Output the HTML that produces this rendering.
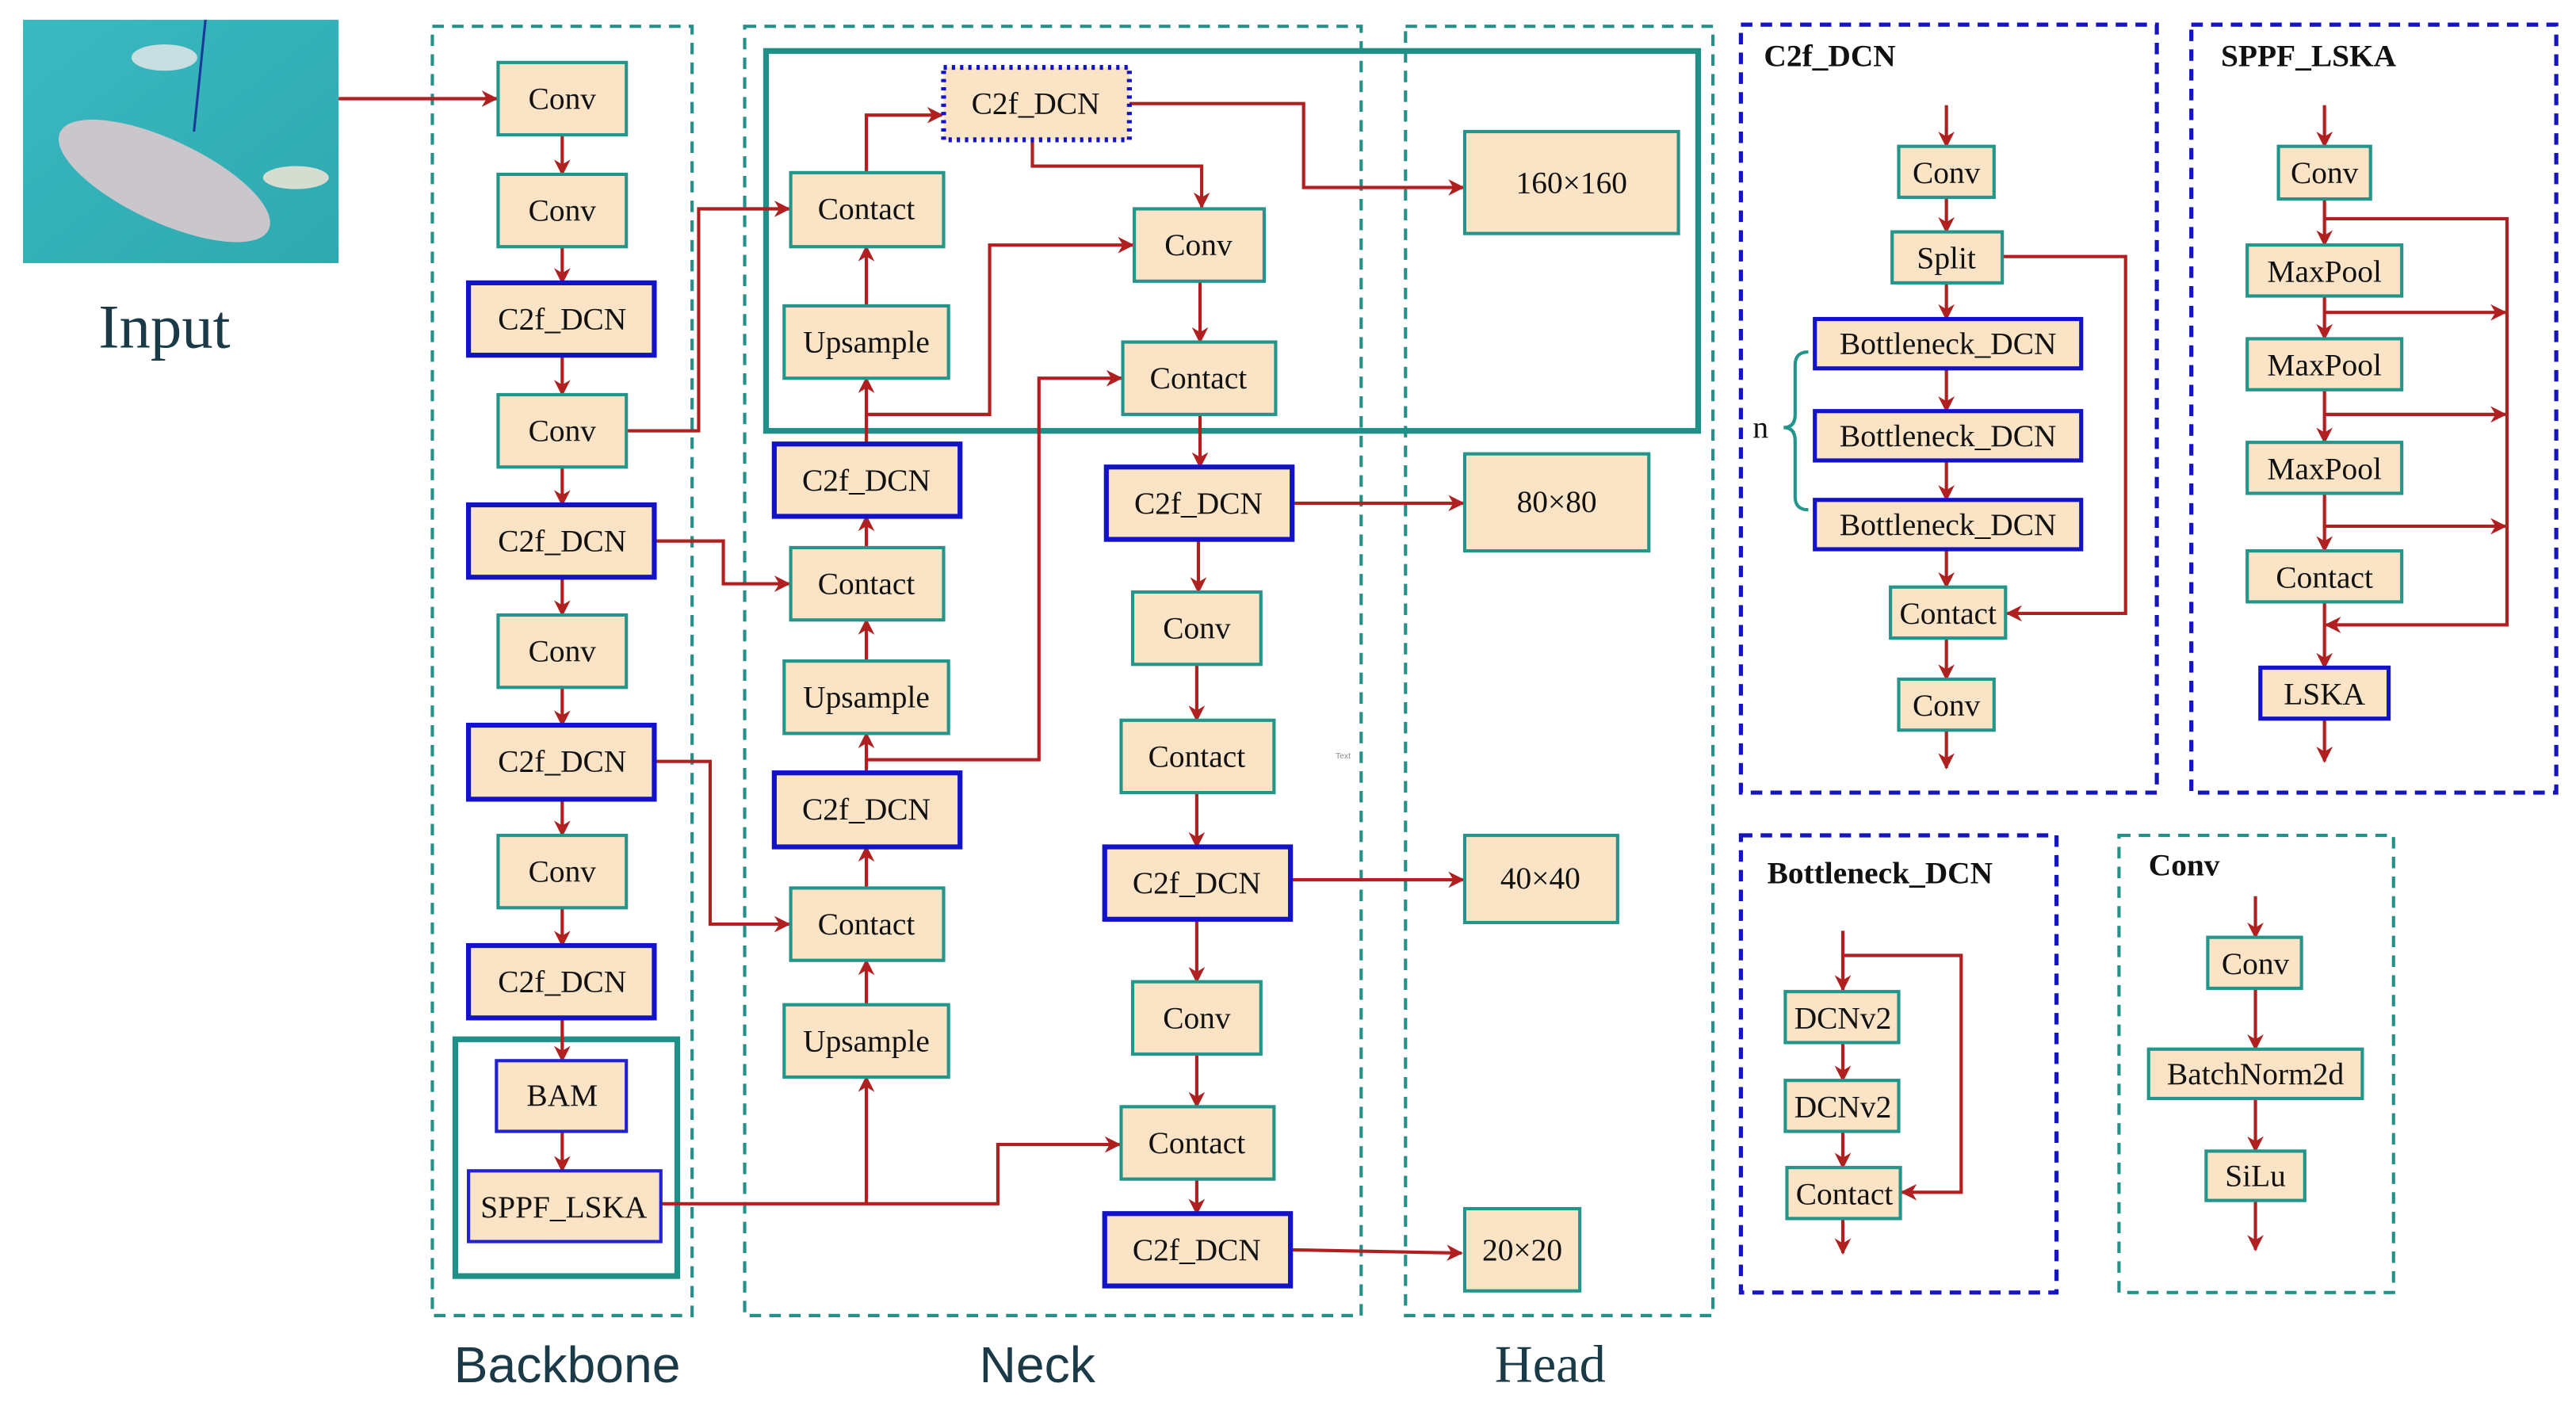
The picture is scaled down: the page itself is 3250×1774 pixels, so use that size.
<!DOCTYPE html>
<html><head><meta charset="utf-8"><style>
html,body{margin:0;padding:0;background:#fff;}
svg{display:block;}
text{font-family:"Liberation Serif","Times New Roman",serif;font-size:19px;fill:#111;text-anchor:middle;dominant-baseline:central;}
.b{fill:#fbe3c5;stroke:#23958b;stroke-width:2;}
.bl{fill:#fbe3c5;stroke:#1212c8;stroke-width:3;}
.w{fill:none;stroke:#b02020;stroke-width:2;}
.dt{fill:none;stroke:#23908a;stroke-width:2;stroke-dasharray:7,5;}
.db{fill:none;stroke:#1515c0;stroke-width:2.5;stroke-dasharray:7,5;}
.t{font-weight:bold;text-anchor:start;font-size:19px;}
</style></head><body>
<svg width="3250" height="1774" viewBox="0 0 1567 855" preserveAspectRatio="none" xmlns="http://www.w3.org/2000/svg">
<defs>
<marker id="a" markerWidth="10" markerHeight="10" refX="9" refY="5" orient="auto" markerUnits="userSpaceOnUse"><path d="M0,0 L10,5 L0,10 L3,5 z" fill="#b02020"/></marker>
<linearGradient id="wg" x1="0" y1="0" x2="1" y2="1"><stop offset="0" stop-color="#3bb8c0"/><stop offset="1" stop-color="#2ea9b0"/></linearGradient>
</defs>
<rect width="1567" height="855" fill="#fff"/>
<!-- input image -->
<rect x="14" y="12" width="192" height="148" fill="url(#wg)"/>
<ellipse cx="100" cy="110" rx="70" ry="25" fill="#c9c6cc" transform="rotate(25 100 110)"/>
<ellipse cx="100" cy="35" rx="20" ry="8" fill="#c8dfe2"/>
<ellipse cx="180" cy="108" rx="20" ry="7" fill="#d5ddd0"/>
<line x1="125" y1="12" x2="118" y2="80" stroke="#1a3a9a" stroke-width="1.5"/>
<text x="100" y="199" style="font-size:38px;fill:#1a3a48">Input</text>
<!-- dashed groups -->
<rect class="dt" x="263" y="16" width="158" height="784"/>
<rect class="dt" x="453" y="16" width="375" height="784"/>
<rect class="dt" x="855" y="16" width="187" height="784"/>
<text x="345" y="830" style="font-family:'Liberation Sans',sans-serif;font-size:31px;fill:#1a3a48">Backbone</text>
<text x="631" y="830" style="font-family:'Liberation Sans',sans-serif;font-size:31px;fill:#1a3a48">Neck</text>
<text x="943" y="830" style="font-size:32px;fill:#1a3a48">Head</text>
<rect x="466" y="31" width="567" height="231" fill="none" stroke="#1f9088" stroke-width="3.5"/>
<rect x="277" y="632" width="135" height="144" fill="none" stroke="#1f9088" stroke-width="3.5"/>
<!-- wires -->
<path class="w" marker-end="url(#a)" d="M206,60 H302"/>
<path class="w" marker-end="url(#a)" d="M342,82 V106"/>
<path class="w" marker-end="url(#a)" d="M342,150 V172"/>
<path class="w" marker-end="url(#a)" d="M342,216 V240"/>
<path class="w" marker-end="url(#a)" d="M342,284 V307"/>
<path class="w" marker-end="url(#a)" d="M342,351 V374"/>
<path class="w" marker-end="url(#a)" d="M342,418 V441"/>
<path class="w" marker-end="url(#a)" d="M342,486 V508"/>
<path class="w" marker-end="url(#a)" d="M342,552 V575"/>
<path class="w" marker-end="url(#a)" d="M342,619 V645"/>
<path class="w" marker-end="url(#a)" d="M342,688 V712"/>
<path class="w" marker-end="url(#a)" d="M381,262 H425 V127 H480"/>
<path class="w" marker-end="url(#a)" d="M398,329 H440 V355 H480"/>
<path class="w" marker-end="url(#a)" d="M398,463 H432 V562 H480"/>
<path class="w" marker-end="url(#a)" d="M402,732 H607 V696 H681"/>
<path class="w" marker-end="url(#a)" d="M527,732 V655"/>
<path class="w" marker-end="url(#a)" d="M527,611 V584"/>
<path class="w" marker-end="url(#a)" d="M527,540 V515"/>
<path class="w" marker-end="url(#a)" d="M527,470 V446"/>
<path class="w" marker-end="url(#a)" d="M527,462 H632 V230 H682"/>
<path class="w" marker-end="url(#a)" d="M527,402 V377"/>
<path class="w" marker-end="url(#a)" d="M527,333 V314"/>
<path class="w" marker-end="url(#a)" d="M527,270 V230"/>
<path class="w" marker-end="url(#a)" d="M527,252 H602 V149 H689"/>
<path class="w" marker-end="url(#a)" d="M527,186 V150"/>
<path class="w" marker-end="url(#a)" d="M527,105 V70 H573"/>
<path class="w" marker-end="url(#a)" d="M687,63 H793 V114 H890"/>
<path class="w" marker-end="url(#a)" d="M628,85 V101 H731 V126"/>
<path class="w" marker-end="url(#a)" d="M730,171 V208"/>
<path class="w" marker-end="url(#a)" d="M730,252 V284"/>
<path class="w" marker-end="url(#a)" d="M786,306 H890"/>
<path class="w" marker-end="url(#a)" d="M729,328 V360"/>
<path class="w" marker-end="url(#a)" d="M728,404 V438"/>
<path class="w" marker-end="url(#a)" d="M728,482 V515"/>
<path class="w" marker-end="url(#a)" d="M785,535 H890"/>
<path class="w" marker-end="url(#a)" d="M728,559 V597"/>
<path class="w" marker-end="url(#a)" d="M728,641 V673"/>
<path class="w" marker-end="url(#a)" d="M728,717 V738"/>
<path class="w" marker-end="url(#a)" d="M785,760 L889,762"/>
<!-- backbone boxes -->
<rect class="b" x="303" y="38" width="78" height="44"/><text x="342" y="60">Conv</text>
<rect class="b" x="303" y="106" width="78" height="44"/><text x="342" y="128">Conv</text>
<rect class="bl" x="285" y="172" width="113" height="44"/><text x="342" y="194">C2f_DCN</text>
<rect class="b" x="303" y="240" width="78" height="44"/><text x="342" y="262">Conv</text>
<rect class="bl" x="285" y="307" width="113" height="44"/><text x="342" y="329">C2f_DCN</text>
<rect class="b" x="303" y="374" width="78" height="44"/><text x="342" y="396">Conv</text>
<rect class="bl" x="285" y="441" width="113" height="45"/><text x="342" y="463">C2f_DCN</text>
<rect class="b" x="303" y="508" width="78" height="44"/><text x="342" y="530">Conv</text>
<rect class="bl" x="285" y="575" width="113" height="44"/><text x="342" y="597">C2f_DCN</text>
<rect class="b" x="302" y="645" width="79" height="43" style="stroke:#2222cc"/><text x="342" y="666">BAM</text>
<rect class="b" x="285" y="712" width="117" height="43" style="stroke:#2222cc"/><text x="343" y="734">SPPF_LSKA</text>
<!-- neck left -->
<rect class="b" x="481" y="105" width="93" height="45"/><text x="527" y="127">Contact</text>
<rect class="b" x="477" y="186" width="100" height="44"/><text x="527" y="208">Upsample</text>
<rect class="bl" x="471" y="270" width="113" height="44"/><text x="527" y="292">C2f_DCN</text>
<rect class="b" x="481" y="333" width="93" height="44"/><text x="527" y="355">Contact</text>
<rect class="b" x="477" y="402" width="100" height="44"/><text x="527" y="424">Upsample</text>
<rect class="bl" x="471" y="470" width="113" height="45"/><text x="527" y="492">C2f_DCN</text>
<rect class="b" x="481" y="540" width="93" height="44"/><text x="527" y="562">Contact</text>
<rect class="b" x="477" y="611" width="100" height="44"/><text x="527" y="633">Upsample</text>
<rect x="574" y="41" width="113" height="44" fill="#fbe3c5" stroke="#1212c8" stroke-width="3" stroke-dasharray="2,3"/><text x="630" y="63">C2f_DCN</text>
<!-- neck right -->
<rect class="b" x="690" y="127" width="79" height="44"/><text x="729" y="149">Conv</text>
<rect class="b" x="683" y="208" width="93" height="44"/><text x="729" y="230">Contact</text>
<rect class="bl" x="673" y="284" width="113" height="44"/><text x="729" y="306">C2f_DCN</text>
<rect class="b" x="689" y="360" width="78" height="44"/><text x="728" y="382">Conv</text>
<rect class="b" x="682" y="438" width="93" height="44"/><text x="728" y="460">Contact</text>
<rect class="bl" x="672" y="515" width="113" height="44"/><text x="728" y="537">C2f_DCN</text>
<rect class="b" x="689" y="597" width="78" height="44"/><text x="728" y="619">Conv</text>
<rect class="b" x="682" y="673" width="93" height="44"/><text x="728" y="695">Contact</text>
<rect class="bl" x="672" y="738" width="113" height="44"/><text x="728" y="760">C2f_DCN</text>
<text x="817" y="460" style="font-family:'Liberation Sans',sans-serif;font-size:5px;fill:#888">Text</text>
<!-- head -->
<rect class="b" x="891" y="80" width="130" height="62"/><text x="956" y="111">160×160</text>
<rect class="b" x="891" y="276" width="112" height="59"/><text x="947" y="305">80×80</text>
<rect class="b" x="891" y="508" width="93" height="53"/><text x="937" y="534">40×40</text>
<rect class="b" x="891" y="735" width="70" height="50"/><text x="926" y="760">20×20</text>
<!-- C2f_DCN panel -->
<rect class="db" x="1059" y="15" width="253" height="467"/>
<text class="t" x="1073" y="34">C2f_DCN</text>
<path class="w" marker-end="url(#a)" d="M1184,64 V89"/>
<path class="w" marker-end="url(#a)" d="M1184,120 V141"/>
<path class="w" marker-end="url(#a)" d="M1184,172 V194"/>
<path class="w" marker-end="url(#a)" d="M1184,224 V250"/>
<path class="w" marker-end="url(#a)" d="M1184,280 V304"/>
<path class="w" marker-end="url(#a)" d="M1184,334 V357"/>
<path class="w" marker-end="url(#a)" d="M1184,388 V413"/>
<path class="w" marker-end="url(#a)" d="M1184,444 V467"/>
<path class="w" marker-end="url(#a)" d="M1218,156 H1293 V373 H1221"/>
<rect class="b" x="1155" y="89" width="58" height="31"/><text x="1184" y="105">Conv</text>
<rect class="b" x="1151" y="141" width="67" height="31"/><text x="1184" y="157">Split</text>
<rect class="bl" x="1104" y="194" width="162" height="30" style="stroke-width:2.5"/><text x="1185" y="209">Bottleneck_DCN</text>
<rect class="bl" x="1104" y="250" width="162" height="30" style="stroke-width:2.5"/><text x="1185" y="265">Bottleneck_DCN</text>
<rect class="bl" x="1104" y="304" width="162" height="30" style="stroke-width:2.5"/><text x="1185" y="319">Bottleneck_DCN</text>
<rect class="b" x="1150" y="357" width="70" height="31"/><text x="1185" y="373">Contact</text>
<rect class="b" x="1155" y="413" width="58" height="31"/><text x="1184" y="429">Conv</text>
<path d="M1100,214 Q1092,214 1092,222 V252 Q1092,260 1085,260 Q1092,260 1092,268 V302 Q1092,310 1100,310" fill="none" stroke="#23958b" stroke-width="2"/>
<text x="1071" y="260">n</text>
<!-- SPPF_LSKA panel -->
<rect class="db" x="1333" y="15" width="222" height="467"/>
<text class="t" x="1351" y="34">SPPF_LSKA</text>
<path class="w" marker-end="url(#a)" d="M1414,64 V89"/>
<path class="w" marker-end="url(#a)" d="M1414,121 V149"/>
<path class="w" marker-end="url(#a)" d="M1414,180 V206"/>
<path class="w" marker-end="url(#a)" d="M1414,237 V269"/>
<path class="w" marker-end="url(#a)" d="M1414,300 V335"/>
<path class="w" marker-end="url(#a)" d="M1414,366 V406"/>
<path class="w" marker-end="url(#a)" d="M1414,437 V463"/>
<path class="w" marker-end="url(#a)" d="M1414,133 H1525 V380 H1415"/>
<path class="w" marker-end="url(#a)" d="M1414,190 H1524"/>
<path class="w" marker-end="url(#a)" d="M1414,252 H1524"/>
<path class="w" marker-end="url(#a)" d="M1414,320 H1524"/>
<rect class="b" x="1386" y="89" width="56" height="32"/><text x="1414" y="105">Conv</text>
<rect class="b" x="1367" y="149" width="94" height="31"/><text x="1414" y="165">MaxPool</text>
<rect class="b" x="1367" y="206" width="94" height="31"/><text x="1414" y="222">MaxPool</text>
<rect class="b" x="1367" y="269" width="94" height="31"/><text x="1414" y="285">MaxPool</text>
<rect class="b" x="1367" y="335" width="94" height="31"/><text x="1414" y="351">Contact</text>
<rect class="bl" x="1375" y="406" width="78" height="31" style="stroke-width:2.5"/><text x="1414" y="422">LSKA</text>
<!-- Bottleneck_DCN panel -->
<rect class="db" x="1059" y="508" width="192" height="278"/>
<text class="t" x="1075" y="531">Bottleneck_DCN</text>
<path class="w" marker-end="url(#a)" d="M1121,566 V602"/>
<path class="w" marker-end="url(#a)" d="M1121,634 V657"/>
<path class="w" marker-end="url(#a)" d="M1121,688 V710"/>
<path class="w" marker-end="url(#a)" d="M1121,741 V762"/>
<path class="w" marker-end="url(#a)" d="M1121,581 H1193 V725 H1157"/>
<rect class="b" x="1086" y="603" width="69" height="31"/><text x="1121" y="619">DCNv2</text>
<rect class="b" x="1086" y="657" width="69" height="31"/><text x="1121" y="673">DCNv2</text>
<rect class="b" x="1087" y="710" width="69" height="31"/><text x="1122" y="726">Contact</text>
<!-- Conv panel -->
<rect class="dt" x="1289" y="508" width="167" height="278"/>
<text class="t" x="1307" y="526">Conv</text>
<path class="w" marker-end="url(#a)" d="M1372,545 V570"/>
<path class="w" marker-end="url(#a)" d="M1372,601 V638"/>
<path class="w" marker-end="url(#a)" d="M1372,668 V700"/>
<path class="w" marker-end="url(#a)" d="M1372,730 V760"/>
<rect class="b" x="1343" y="570" width="57" height="31"/><text x="1372" y="586">Conv</text>
<rect class="b" x="1307" y="638" width="130" height="30"/><text x="1372" y="653">BatchNorm2d</text>
<rect class="b" x="1342" y="700" width="60" height="30"/><text x="1372" y="715">SiLu</text>
</svg>
</body></html>
